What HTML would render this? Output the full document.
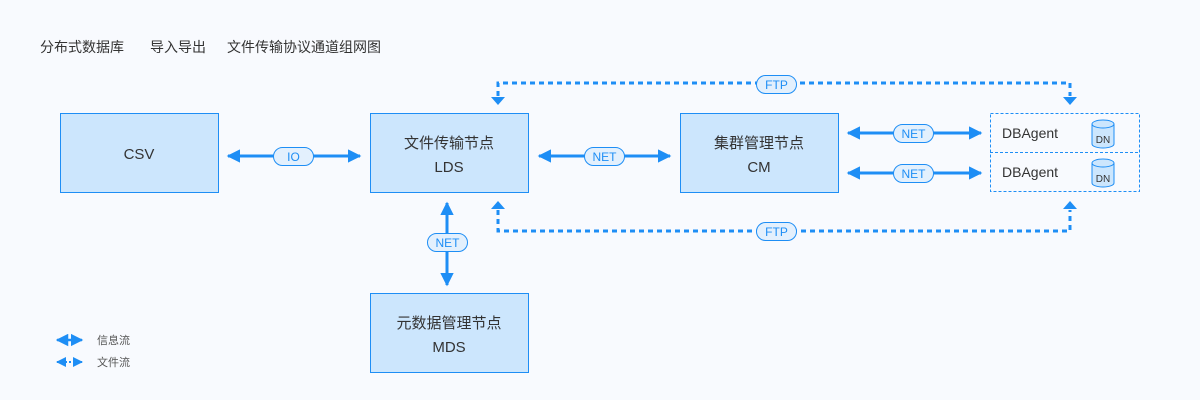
<!DOCTYPE html>
<html><head><meta charset="utf-8"><style>
body{margin:0;background:#f8fafe;}
svg{display:block;font-family:"Liberation Sans","Noto Sans CJK SC",sans-serif;}
</style></head><body>
<svg width="1200" height="400" viewBox="0 0 1200 400">
<defs>
<marker id="a" viewBox="0 0 10 10" refX="9" refY="5" markerWidth="4.5" markerHeight="4.5" orient="auto-start-reverse"><path d="M0,0L10,5L0,10z" fill="#1e8ef5"/></marker>
<marker id="b" viewBox="0 0 10 10" refX="9" refY="5" markerWidth="5" markerHeight="5" orient="auto-start-reverse"><path d="M0,0L10,5L0,10z" fill="#1e8ef5"/></marker>
</defs>
<rect width="1200" height="400" fill="#f8fafe"/>
<g font-size="14" fill="#333">
<text x="40" y="52">分布式数据库</text>
<text x="150" y="52">导入导出</text>
<text x="227" y="52">文件传输协议通道组网图</text>
</g>
<g fill="#cce6fd" stroke="#1e8ef5" stroke-width="1">
<rect x="60.5" y="113.5" width="158" height="79"/>
<rect x="370.5" y="113.5" width="158" height="79"/>
<rect x="680.5" y="113.5" width="158" height="79"/>
<rect x="370.5" y="293.5" width="158" height="79"/>
</g>
<g font-size="15" fill="#333" text-anchor="middle">
<text x="139" y="159">CSV</text>
<text x="449" y="148">文件传输节点</text><text x="449" y="172">LDS</text>
<text x="759" y="148">集群管理节点</text><text x="759" y="172">CM</text>
<text x="449" y="328">元数据管理节点</text><text x="449" y="352">MDS</text>
</g>
<rect x="990.5" y="113.5" width="149" height="78" fill="none" stroke="#1e8ef5" stroke-dasharray="3,2"/>
<line x1="990" y1="152.5" x2="1140" y2="152.5" stroke="#1e8ef5" stroke-dasharray="3,2"/>
<g font-size="14" fill="#333"><text x="1002" y="138">DBAgent</text><text x="1002" y="177">DBAgent</text></g>
<g fill="#cce6fd" stroke="#1e8ef5">
<path d="M1092,124v20a11,4 0 0 0 22,0v-20" /><ellipse cx="1103" cy="124" rx="11" ry="4"/>
<path d="M1092,163v20a11,4 0 0 0 22,0v-20" /><ellipse cx="1103" cy="163" rx="11" ry="4"/>
</g>
<g font-size="10" fill="#333" text-anchor="middle"><text x="1103" y="143">DN</text><text x="1103" y="182">DN</text></g>
<g stroke="#1e8ef5" stroke-width="3" fill="none" marker-start="url(#a)" marker-end="url(#a)">
<line x1="228" y1="156" x2="360" y2="156"/>
<line x1="539" y1="156" x2="670" y2="156"/>
<line x1="848" y1="133" x2="981" y2="133"/>
<line x1="848" y1="173" x2="981" y2="173"/>
<line x1="447" y1="203" x2="447" y2="285"/>
</g>
<g stroke="#1e8ef5" stroke-width="3" fill="none" stroke-dasharray="5,4">
<path d="M498,96V83H1070V96"/>
<path d="M498,210V231H1070V210"/>
</g>
<g fill="#1e8ef5">
<path d="M491,97h14l-7,8z"/><path d="M1063,97h14l-7,8z"/>
<path d="M491,209h14l-7,-8z"/><path d="M1063,209h14l-7,-8z"/>
</g>
<g fill="#e3f0fd" stroke="#1e8ef5">
<rect x="273.5" y="147.5" width="40" height="18" rx="9"/>
<rect x="584.5" y="147.5" width="40" height="18" rx="9"/>
<rect x="893.5" y="124.5" width="40" height="18" rx="9"/>
<rect x="893.5" y="164.5" width="40" height="18" rx="9"/>
<rect x="427.5" y="233.5" width="40" height="18" rx="9"/>
<rect x="756.5" y="75.5" width="40" height="18" rx="9"/>
<rect x="756.5" y="222.5" width="40" height="18" rx="9"/>
</g>
<g font-size="12" fill="#1e8ef5" text-anchor="middle">
<text x="293.5" y="161">IO</text>
<text x="604.5" y="161">NET</text>
<text x="913.5" y="138">NET</text>
<text x="913.5" y="178">NET</text>
<text x="447.5" y="247">NET</text>
<text x="776.5" y="89">FTP</text>
<text x="776.5" y="236">FTP</text>
</g>
<line x1="57" y1="340" x2="82" y2="340" stroke="#1e8ef5" stroke-width="2.5" marker-start="url(#b)" marker-end="url(#b)"/>
<line x1="57" y1="362" x2="82" y2="362" stroke="#1e8ef5" stroke-width="2" stroke-dasharray="2,2" marker-start="url(#b)" marker-end="url(#b)"/>
<g font-size="11" fill="#555"><text x="97" y="344">信息流</text><text x="97" y="366">文件流</text></g>
</svg>
</body></html>
